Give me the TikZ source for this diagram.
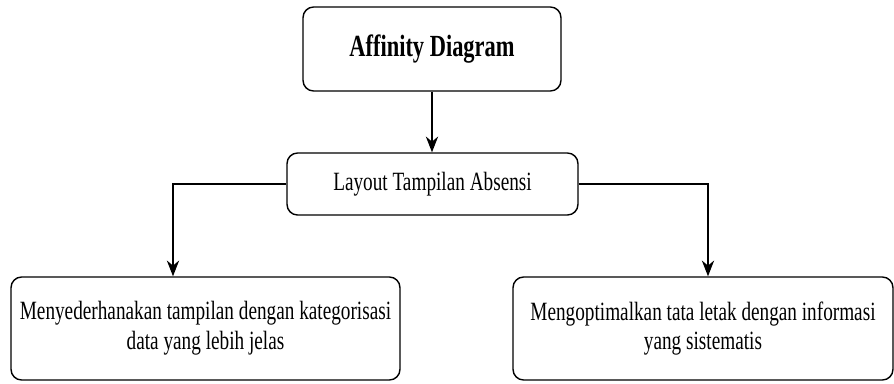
\documentclass[tikz,border=0pt]{standalone}
\usepackage{fontspec}
\setmainfont{Liberation Serif}[FakeStretch=0.73]
\usetikzlibrary{arrows.meta}
\begin{document}
\begin{tikzpicture}[x=0.02cm, y=-0.02cm, >={Stealth[length=9pt,width=7pt]}, thick, box/.style={draw, rounded corners=6pt, align=center, inner sep=0pt, font=\fontsize{15}{17}\selectfont}, title/.style={box, font=\bfseries\fontsize{17.5}{20}\selectfont}]
		\useasboundingbox (0,0) rectangle (894,383);
		\node[title, minimum width=5.16cm, minimum height=1.68cm] (affinity) at (432,49) {Affinity Diagram};
		\node[box, minimum width=5.82cm, minimum height=1.24cm] (layout) at (432.5,184) {Layout Tampilan Absensi};
		\node[box, minimum width=7.78cm, minimum height=2.06cm] (sederhana) at (205.5,328.5) {Menyederhanakan tampilan dengan kategorisasi\\data yang lebih jelas};
		\node[box, minimum width=7.6cm, minimum height=2.06cm] (optimal) at (703,328.5) {Mengoptimalkan tata letak dengan informasi\\yang sistematis};
		\coordinate (lturn) at (173,184);
		\coordinate (rturn) at (708,184);
		\draw[->] (affinity) -- (affinity |- layout.north);
		\draw[->] (layout.west) -- (lturn) -- (lturn |- sederhana.north);
		\draw[->] (layout.east) -- (rturn) -- (rturn |- optimal.north);
	\end{tikzpicture}
\end{document}
